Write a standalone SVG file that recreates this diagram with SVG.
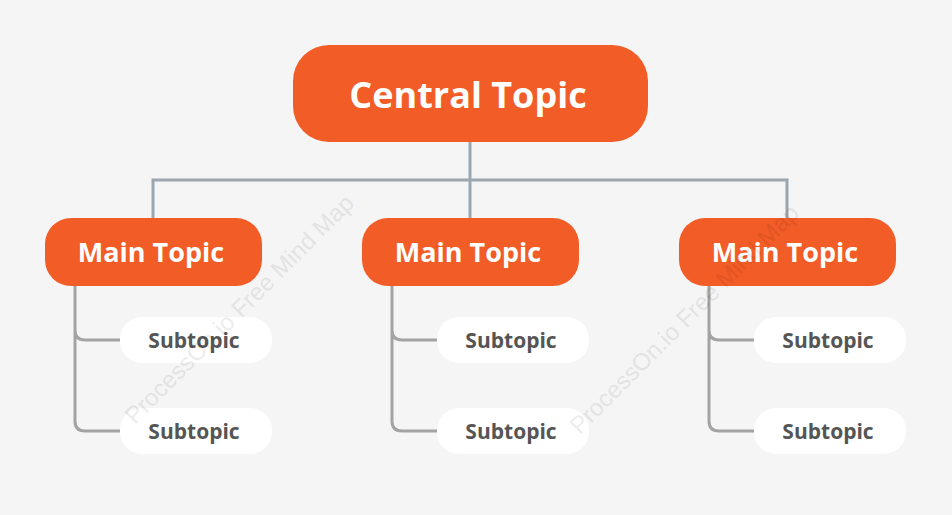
<svg xmlns="http://www.w3.org/2000/svg" width="952" height="515" viewBox="0 0 952 515">
<style>
.main{fill:#f25c26}
.sub{fill:#ffffff}
.mt{font-family:"Open Sans","Liberation Sans",sans-serif;font-weight:bold;fill:#fff;text-anchor:middle}
.st{font-family:"Open Sans","Liberation Sans",sans-serif;font-weight:bold;fill:#555;font-size:21px;text-anchor:middle}
.wm{font-family:"Liberation Sans",sans-serif;font-size:24px;fill:#000;opacity:0.07;text-anchor:middle}
.c1{fill:none;stroke:#9ca6ae;stroke-width:3}
.c2{fill:none;stroke:#a3a3a3;stroke-width:3}
</style>
<rect width="952" height="515" fill="#f5f5f5"/>
<g id="connectors">
<path class="c1" d="M470 142V180M153 218V180H787V218M470 180V218"/>
<path class="c2" d="M75 286V330Q75 340 85 340H120M75 330V421Q75 431 85 431H120"/>
<path class="c2" d="M392 286V330Q392 340 402 340H437M392 330V421Q392 431 402 431H437"/>
<path class="c2" d="M709 286V330Q709 340 719 340H754M709 330V421Q709 431 719 431H754"/>
</g>
<g id="central"><rect class="main" x="293" y="45" width="355" height="97" rx="36"/><text class="mt" x="468" y="108" font-size="36">Central Topic</text></g>
<g id="main1"><rect class="main" x="45" y="218" width="217" height="68" rx="26"/><text class="mt" x="151" y="262" font-size="27">Main Topic</text></g>
<g id="main2"><rect class="main" x="362" y="218" width="217" height="68" rx="26"/><text class="mt" x="468" y="262" font-size="27">Main Topic</text></g>
<g id="main3"><rect class="main" x="679" y="218" width="217" height="68" rx="26"/><text class="mt" x="785" y="262" font-size="27">Main Topic</text></g>
<g id="sub1a"><rect class="sub" x="120" y="317" width="152" height="46" rx="22"/><text class="st" x="194" y="348">Subtopic</text></g>
<g id="sub1b"><rect class="sub" x="120" y="408" width="152" height="46" rx="22"/><text class="st" x="194" y="439">Subtopic</text></g>
<g id="sub2a"><rect class="sub" x="437" y="317" width="152" height="46" rx="22"/><text class="st" x="511" y="348">Subtopic</text></g>
<g id="sub2b"><rect class="sub" x="437" y="408" width="152" height="46" rx="22"/><text class="st" x="511" y="439">Subtopic</text></g>
<g id="sub3a"><rect class="sub" x="754" y="317" width="152" height="46" rx="22"/><text class="st" x="828" y="348">Subtopic</text></g>
<g id="sub3b"><rect class="sub" x="754" y="408" width="152" height="46" rx="22"/><text class="st" x="828" y="439">Subtopic</text></g>
<text class="wm" transform="translate(245,315) rotate(-45)">ProcessOn.io Free Mind Map</text>
<text class="wm" transform="translate(690,325) rotate(-45)">ProcessOn.io Free Mind Map</text>
</svg>
